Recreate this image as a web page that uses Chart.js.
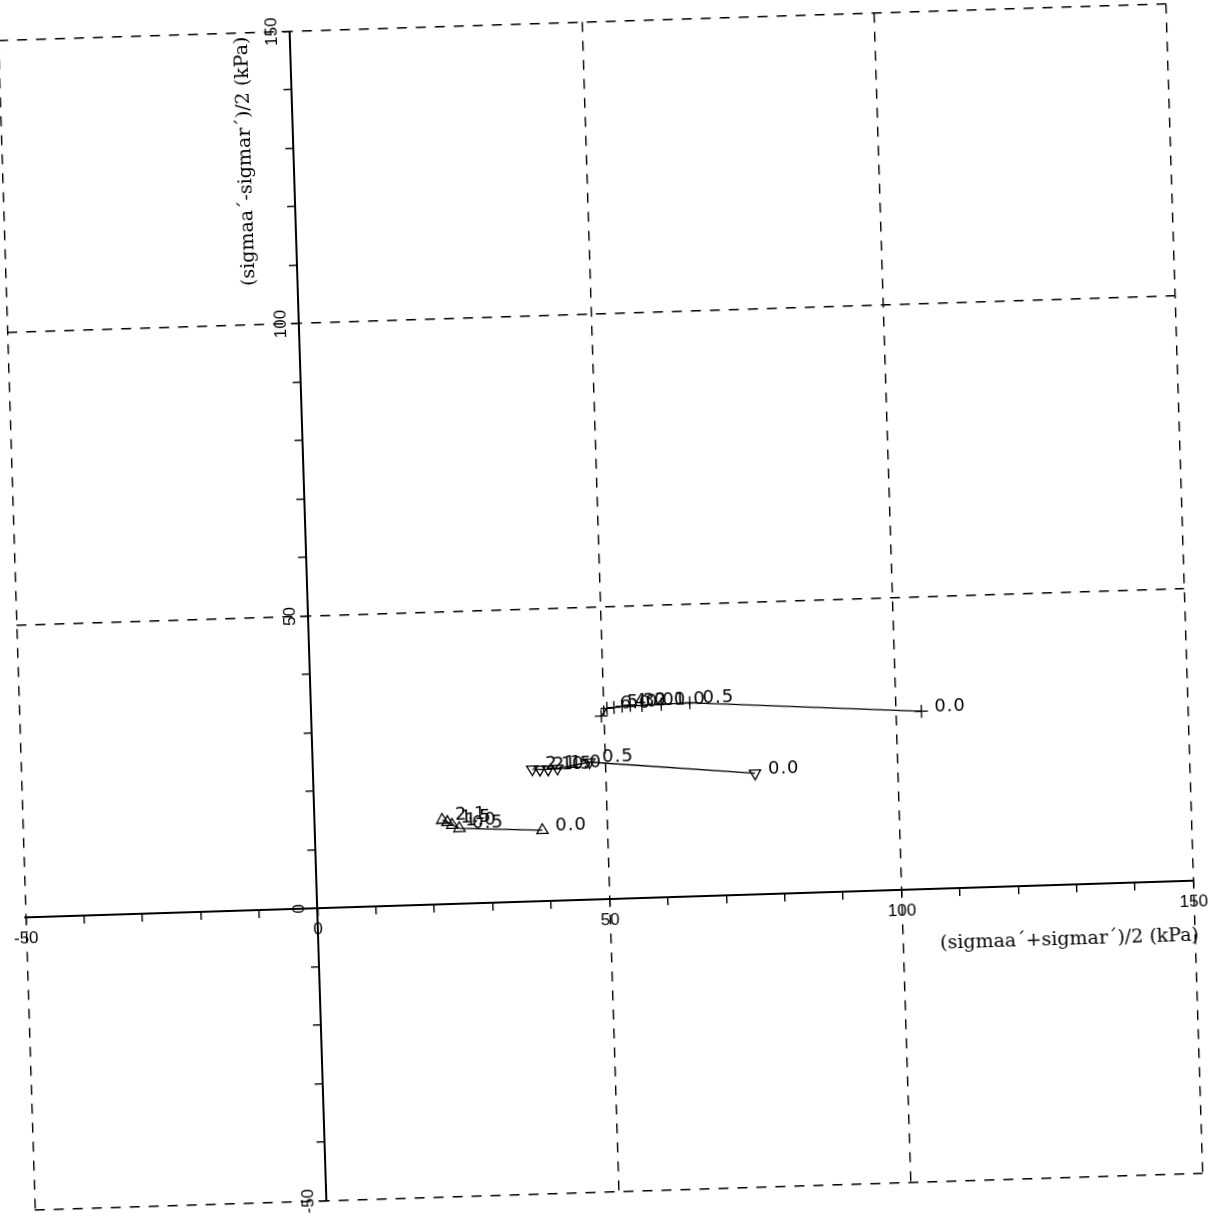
<!DOCTYPE html>
<html>
<head>
<meta charset="utf-8">
<script src="https://cdn.jsdelivr.net/npm/chart.js@4.4.1/dist/chart.umd.min.js"></script>
<style>
  html, body { margin: 0; padding: 0; background: #fff; overflow: hidden; }
  #wrap { width: 1212px; height: 1223px; transform: rotate(-1.8deg); transform-origin: 50% 50%; }
</style>
</head>
<body>
<div id="wrap"><canvas id="chart"></canvas></div>
<script>
// stress paths (x = mean, y = half difference, kPa)
const plusX = [104.4, 64.8, 59.9, 56.6, 54.6, 53.2, 51.8, 50.6, 49.6];
const plusY = [30.4, 33.1, 33.0, 32.9, 33.0, 32.9, 32.7, 32.6, 31.3];
const plusLabels = ['0.0', '0.5', '1.0', '2.0', '3.0', '4.0', '5.0', '6.0', ''];

const downX = [75.6, 47.3, 41.8, 40.2, 38.8, 37.5];
const downY = [20.7, 23.5, 22.6, 22.5, 22.5, 22.6];
const downLabels = ['0.0', '0.5', '1.0', '1.5', '2.0', '2.1'];

const upX = [38.9, 24.7, 23.5, 22.7, 21.8];
const upY = [12.1, 12.9, 13.5, 14.0, 14.4];
const upLabels = ['0.0', '0.5', '1.0', '1.5', '2.1'];

const yTickLabels = [-50, 0, 50, 100, 150];
const xTitle = '(sigmaa\u00b4+sigmar\u00b4)/2 (kPa)';
const yTitle = '(sigmaa\u00b4-sigmar\u00b4)/2 (kPa)';

function pairs(xs, ys) {
  return xs.map((v, i) => ({ x: v, y: ys[i] }));
}

// dashed grid only every 50, never on the axes themselves
const gridColor = (c) => (c.tick && c.tick.value % 50 === 0 && c.tick.value !== 0) ? '#000' : 'rgba(0,0,0,0)';

const annotate = {
  id: 'annotate',
  afterDraw(chart) {
    const { ctx, scales: { x, y } } = chart;
    const x0 = x.getPixelForValue(0);
    const y0 = y.getPixelForValue(0);
    ctx.save();
    ctx.fillStyle = '#000';

    // y tick labels are turned on their side
    ctx.font = '17px "Liberation Sans"';
    ctx.textAlign = 'center';
    ctx.textBaseline = 'middle';
    yTickLabels.forEach(v => {
      ctx.save();
      ctx.translate(x0 - 18, y.getPixelForValue(v));
      ctx.rotate(-Math.PI / 2);
      ctx.fillText(String(v), 0, 0);
      ctx.restore();
    });

    ctx.font = '19px "DejaVu Serif"';
    ctx.textAlign = 'right';
    ctx.fillText(xTitle, x.getPixelForValue(150) + 4, y0 + 55);
    ctx.save();
    ctx.translate(x0 - 48, y.getPixelForValue(150) + 4);
    ctx.rotate(-Math.PI / 2);
    ctx.fillText(yTitle, 0, 0);
    ctx.restore();

    // label next to every point
    ctx.font = '18px "DejaVu Sans"';
    ctx.letterSpacing = '1px';
    ctx.textAlign = 'left';
    chart.data.datasets.forEach((ds, i) => {
      chart.getDatasetMeta(i).data.forEach((pt, j) => {
        ctx.fillText(ds.pointLabels[j], pt.x + 13, pt.y - 4);
      });
    });
    ctx.restore();
  }
};

const lineStyle = {
  showLine: true,
  borderColor: '#000',
  borderWidth: 1.3,
  pointBorderColor: '#000',
  pointBackgroundColor: 'rgba(0,0,0,0)',
  pointBorderWidth: 1.3,
  pointRadius: 6.5,
  tension: 0,
  fill: false
};

function axis(pos, showTicks) {
  return {
    type: 'linear',
    position: pos,
    min: -50,
    max: 150,
    ticks: {
      display: showTicks,
      stepSize: 10,
      autoSkip: false,
      maxRotation: 0,
      minRotation: 0,
      padding: 4,
      color: '#000',
      font: { family: '"Liberation Sans"', size: 17 },
      callback: v => (v % 50 === 0 ? String(v) : '')
    },
    grid: {
      color: gridColor,
      lineWidth: 1.4,
      tickColor: '#000',
      tickLength: 7,
      tickWidth: 1.4
    },
    border: { display: true, color: '#000', width: 2, dash: [10, 9] }
  };
}

new Chart(document.getElementById('chart'), {
  type: 'scatter',
  data: {
    datasets: [
      Object.assign({ data: pairs(plusX, plusY), pointLabels: plusLabels, pointStyle: 'cross' }, lineStyle),
      Object.assign({ data: pairs(downX, downY), pointLabels: downLabels, pointStyle: 'triangle', pointRotation: 180 }, lineStyle),
      Object.assign({ data: pairs(upX, upY), pointLabels: upLabels, pointStyle: 'triangle' }, lineStyle)
    ]
  },
  options: {
    responsive: true,
    maintainAspectRatio: false,
    animation: false,
    layout: { padding: { left: 14.5, top: 21.5, right: 27.5, bottom: 31.5 } },
    plugins: { legend: { display: false }, tooltip: { enabled: false } },
    scales: {
      x: axis({ y: 0 }, true),
      y: axis({ x: 0 }, false)
    }
  },
  plugins: [annotate]
});
</script>
</body>
</html>
